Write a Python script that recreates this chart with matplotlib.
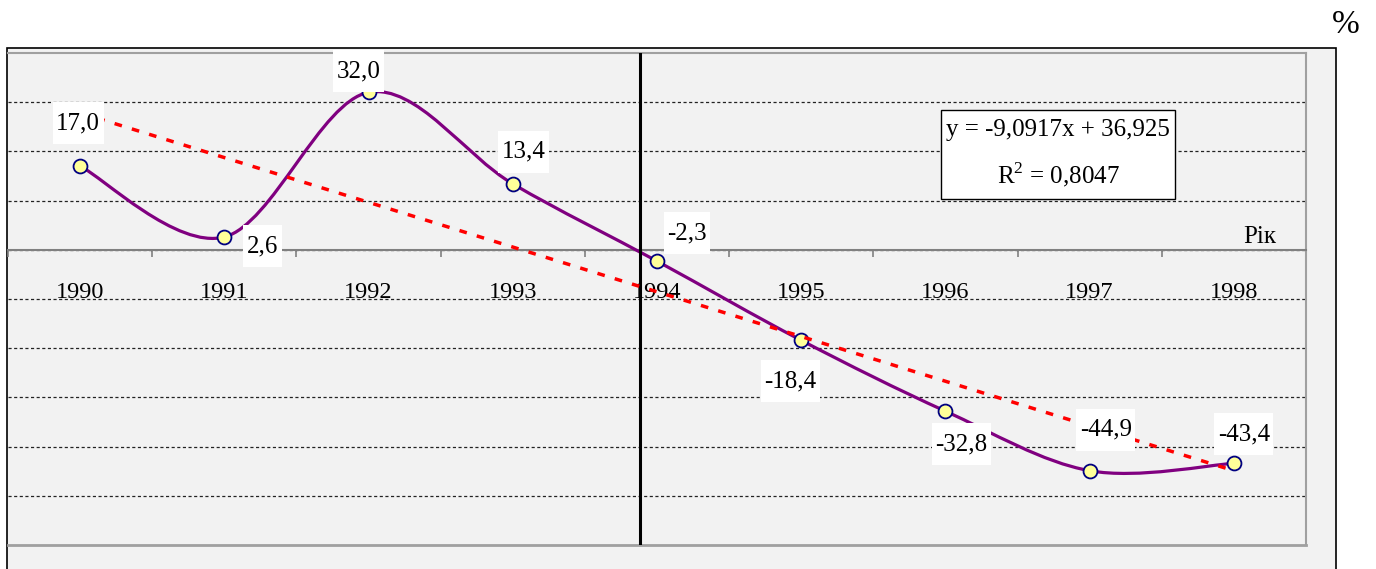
import numpy as np
import matplotlib
matplotlib.use("Agg")
import matplotlib.pyplot as plt
from matplotlib.path import Path
from matplotlib.patches import PathPatch, Rectangle

plt.rcParams['font.family'] = ['Liberation Serif', 'DejaVu Serif']
plt.rcParams['mathtext.fontset'] = 'custom'
plt.rcParams['mathtext.rm'] = 'Liberation Serif'

years = [1990, 1991, 1992, 1993, 1994, 1995, 1996, 1997, 1998]
values = [17.0, 2.6, 32.0, 13.4, -2.3, -18.4, -32.8, -44.9, -43.4]
label_offsets = [(-2, 43), (38, -9), (-10, 21), (11, 32), (30, 28),
                 (-11, -41), (16, -33), (16, 41), (10, 29)]
eq_text = "y = -9,0917x + 36,925\nR$^\\mathrm{2}$ = 0,8047"


def padded(hx, hy):
    # rectangle box with separate horizontal / vertical padding
    def box(x0, y0, width, height, mutation_size):
        px, py = hx * mutation_size, hy * mutation_size
        return Path([(x0 - px, y0 - py), (x0 + width + px, y0 - py),
                     (x0 + width + px, y0 + height + py),
                     (x0 - px, y0 + height + py), (x0 - px, y0 - py)],
                    closed=True)
    return box


W, H = 1376, 569
fig = plt.figure(figsize=(W / 100, H / 100), dpi=100)
fig.patch.set_facecolor('white')

# chart frame
fig.add_artist(Rectangle((7 / W, -0.02), 1329 / W, 1 - 48 / H + 0.02,
                         transform=fig.transFigure, facecolor='#f2f2f2',
                         edgecolor='black', lw=1.2, zorder=0))

ax = fig.add_axes([8 / W, 1 - 545 / H, 1298 / W, 492 / H])
ax.set_facecolor('#f2f2f2')
ax.set_xlim(1989.5, 1998.5)
ax.set_ylim(-60, 40)

x = np.array(years, dtype=float)
y = np.array(values)

# smoothed line (bezier, Excel-like)
px = np.concatenate([[x[0]], x, [x[-1]]])
py = np.concatenate([[y[0]], y, [y[-1]]])
verts = [(x[0], y[0])]
codes = [Path.MOVETO]
for i in range(1, len(px) - 2):
    c1 = (px[i] + (px[i + 1] - px[i - 1]) / 6, py[i] + (py[i + 1] - py[i - 1]) / 6)
    c2 = (px[i + 1] - (px[i + 2] - px[i]) / 6, py[i + 1] - (py[i + 2] - py[i]) / 6)
    verts += [c1, c2, (px[i + 1], py[i + 1])]
    codes += [Path.CURVE4] * 3
ax.add_patch(PathPatch(Path(verts, codes), facecolor='none', edgecolor='#800080',
                       lw=2.3, zorder=3))
ax.plot(x, y, 'o', ms=10, mfc='#ffff99', mec='#000080', mew=1.3, zorder=4)

# linear trend
idx = np.arange(1, len(values) + 1)
k, b = np.polyfit(idx, y, 1)
ax.plot(x, k * idx + b, color='red', lw=2.5, dashes=(2.2, 3.0), zorder=5)

# vertical axis line
ax.axvline(1993.885, color='black', lw=2.2, zorder=3.5)

for xi, yi, off in zip(x, y, label_offsets):
    ax.annotate(f"{yi:.1f}".replace('.', ','), xy=(xi, yi), xytext=off,
                textcoords='offset pixels', ha='center', va='center',
                fontsize=18, zorder=6,
                bbox=dict(boxstyle=padded(0.14, 0.4), fc='white', ec='none'))

# grid
ax.set_yticks(np.arange(-50, 40, 10))
ax.tick_params(axis='y', length=0, labelleft=False)
ax.yaxis.grid(True, color='#222222', lw=0.9, linestyle=(0, (2.5, 2)))

ax.set_xticks(years)
ax.set_xticklabels([str(v) for v in years])
ax.set_xticks(np.arange(1989.5, 1999, 1), minor=True)
ax.tick_params(axis='x', which='major', length=0, pad=23.5, labelsize=17.5)
ax.tick_params(axis='x', which='minor', length=5, width=1.2, color='#808080',
               direction='out')

ax.spines['bottom'].set_position(('data', 0))
ax.spines['bottom'].set_color('#808080')
ax.spines['bottom'].set_linewidth(1.5)
for s in ['top', 'right']:
    ax.spines[s].set_color('#a0a0a0')
    ax.spines[s].set_linewidth(1.5)
ax.spines['left'].set_visible(False)
# bottom border of plot area
ax.axhline(-60, color='#a0a0a0', lw=2, clip_on=False)

ax.text(0.809, 0.795, eq_text, transform=ax.transAxes, ha='center', va='center',
        fontsize=18, multialignment='center', linespacing=1.8, zorder=7,
        bbox=dict(boxstyle=padded(0.2, 0.4), fc='white', ec='black', lw=1))

ax.text(1998.18, 2.6, "Рік", ha='center', va='center', fontsize=18)
fig.text(1346 / W, 1 - 25 / H, "%", ha='center', va='center', fontsize=24)

fig.savefig("out.png", dpi=100)
